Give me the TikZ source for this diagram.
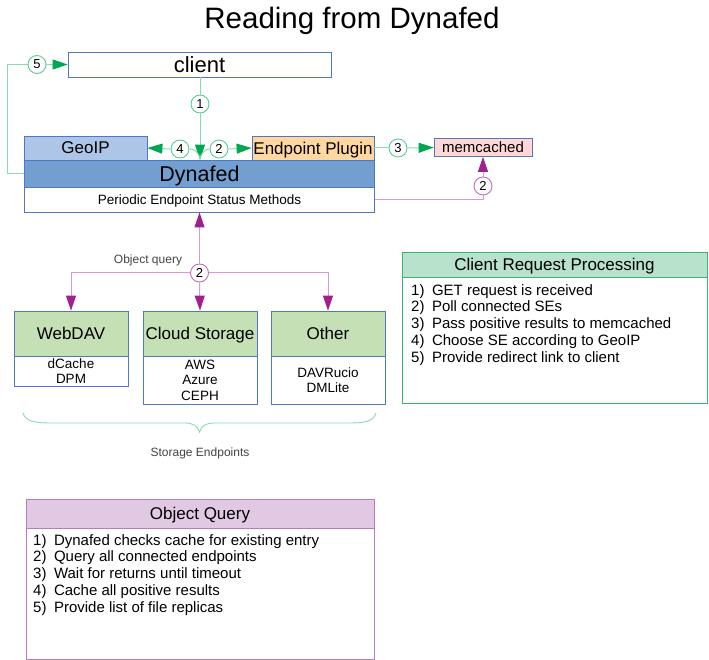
\documentclass[tikz,border=0pt]{standalone}
\usepackage{fontspec}
\setmainfont{Liberation Sans}
\usetikzlibrary{arrows.meta,calc}

\definecolor{boxblue}{HTML}{5078C0}
\definecolor{geoblue}{HTML}{ADC6E8}
\definecolor{dynblue}{HTML}{729FCF}
\definecolor{plugorange}{HTML}{FFD8A0}
\definecolor{mempink}{HTML}{FFD7D7}
\definecolor{sgreen}{HTML}{C5E0B4}
\definecolor{lgreen}{HTML}{86DCAE}
\definecolor{dgreen}{HTML}{00A650}
\definecolor{cgreen}{HTML}{5ACD94}
\definecolor{lpurple}{HTML}{D79AD7}
\definecolor{dpurple}{HTML}{A0208F}
\definecolor{cpurple}{HTML}{C070C0}
\definecolor{mint}{HTML}{B8E2CC}
\definecolor{mintborder}{HTML}{3CB371}
\definecolor{lilac}{HTML}{E1C8E3}
\definecolor{lilacborder}{HTML}{B57BBC}
\definecolor{labelgray}{HTML}{444444}

\tikzset{
  box/.style={draw=boxblue, line width=0.8pt, inner sep=0pt, anchor=center, text depth=0pt},
  hdr/.style={box, font=\fontsize{17}{18}\selectfont},
  sub/.style={draw=boxblue, line width=0.8pt, inner sep=0pt, anchor=center, fill=white, align=center, font=\fontsize{13.5}{15.5}\selectfont},
  num/.style={circle, draw=cgreen, line width=0.9pt, fill=white, minimum size=18pt, inner sep=0pt, font=\fontsize{13}{13}\selectfont},
  pnum/.style={num, draw=cpurple},
  gline/.style={draw=lgreen, line width=1pt},
  pline/.style={draw=lpurple, line width=1pt},
  garrow/.style={-{Triangle[length=15pt,width=10pt,color=dgreen]}},
  parrow/.style={-{Triangle[length=15pt,width=10pt,color=dpurple]}},
  items/.style={align=left, inner sep=0pt, anchor=north west, font=\fontsize{15}{16.75}\selectfont},
  lbl/.style={text=labelgray, inner sep=0pt, text depth=0pt, font=\fontsize{12}{12}\selectfont},
  panel/.style={line width=0.9pt, inner sep=0pt, text depth=0pt, font=\fontsize{17}{17}\selectfont},
}

\begin{document}
\begin{tikzpicture}[x=1pt,y=-1pt]
\useasboundingbox[fill=white] (0,0) rectangle (709,660);

% title
\node[inner sep=0pt, text depth=0pt, font=\fontsize{29.5}{30}\selectfont] (title) at (352,18) {Reading from Dynafed};

% top boxes
\node[box, fill=white, minimum width=263pt, minimum height=25pt, font=\fontsize{22}{22}\selectfont] (client) at (199.5,64.5) {client};
\node[box, fill=geoblue, minimum width=123pt, minimum height=24pt, font=\fontsize{17}{17}\selectfont] (geo) at (85.5,148) {GeoIP};
\node[box, fill=plugorange, minimum width=122pt, minimum height=24pt, font=\fontsize{17}{17}\selectfont] (plug) at (313,148) {Endpoint Plugin};
\node[box, fill=dynblue, minimum width=350pt, minimum height=27pt, font=\fontsize{21.5}{22}\selectfont] (dyn) at (199.5,173.5) {Dynafed};
\node[box, fill=white, minimum width=350pt, minimum height=25pt, font=\fontsize{13.5}{14}\selectfont] (per) at (199.5,199.5) {Periodic Endpoint Status Methods};
\node[box, fill=mempink, minimum width=98pt, minimum height=18pt, font=\fontsize{15}{15}\selectfont] (mem) at (483,147.5) {memcached};

% storage endpoints
\node[hdr, fill=sgreen, minimum width=114pt, minimum height=45pt] (web) at (71,333.5) {WebDAV};
\node[sub, minimum width=114pt, minimum height=30pt] (websub) at (71,371) {dCache\\DPM};
\node[hdr, fill=sgreen, minimum width=114pt, minimum height=45pt] (cloud) at (200,333.5) {Cloud Storage};
\node[sub, minimum width=114pt, minimum height=48pt] (cloudsub) at (200,380) {AWS\\Azure\\CEPH};
\node[hdr, fill=sgreen, minimum width=114pt, minimum height=45pt] (other) at (328,333.5) {Other};
\node[sub, minimum width=114pt, minimum height=48pt] (othersub) at (328,380) {DAVRucio\\DMLite};

% number circles
\node[num] (c1) at (200,104) {1};
\node[num] (c4) at (180,149) {4};
\node[num] (c2g) at (219,149) {2};
\node[num] (c3) at (398,148) {3};
\node[num] (c5) at (37,64.5) {5};
\node[pnum] (cp1) at (483,186) {2};
\node[pnum] (cp2) at (199.5,273) {2};

% green connectors
\coordinate (tip) at (c1 |- dyn.north);
\draw[gline] (client.south -| c1) -- (c1.north);
\draw[gline, garrow] (c1.south) -- (tip);
\draw[gline] ($(tip)+(0,-2)$) .. controls (197,151) and (194,149) .. (c4.east);
\draw[gline, garrow] (c4.west) -- (geo.east);
\draw[gline] ($(tip)+(0,-2)$) .. controls (203,151) and (206,149) .. (c2g.west);
\draw[gline, garrow] (c2g.east) -- (plug.west);
\draw[gline] (plug.east) -- (c3.west);
\draw[gline, garrow] (c3.east) -- (mem.west);
\coordinate (l5) at (7,173.5);
\draw[gline] (dyn.west) -- (l5) |- (c5.west);
\draw[gline, garrow] (c5.east) -- (client.west);

% purple connectors
\draw[pline] (per.east) -| (cp1.south);
\draw[pline, parrow] (cp1.north) -- (mem.south);
\draw[pline, parrow] (cp2.north) -- (per.south);
\draw[pline, parrow] (cp2.west) -| (web.north);
\draw[pline, parrow] (cp2.south) -- (cloud.north);
\draw[pline, parrow] (cp2.east) -| (other.north);
\node[lbl] (oq) at (148,259) {Object query};

% brace
\draw[draw=lgreen, line width=0.9pt] (23,413) .. controls (25,421) and (35,423) .. (50,423) -- (185,423) .. controls (193,423) and (198,426) .. (199.5,432) .. controls (201,426) and (206,423) .. (214,423) -- (350,423) .. controls (365,423) and (374,421) .. (376,413);
\node[lbl] (se) at (200,452) {Storage Endpoints};

% Client Request Processing
\node[panel, draw=mintborder, fill=mint, minimum width=305pt, minimum height=25pt] (crph) at (554.5,264.5) {Client Request Processing};
\node[panel, draw=mintborder, fill=white, minimum width=305pt, minimum height=126pt] (crpb) at (554.5,340) {};
\node[items] (crpi) at (411,284) {1)\enspace GET request is received\\2)\enspace Poll connected SEs\\3)\enspace Pass positive results to memcached\\4)\enspace Choose SE according to GeoIP\\5)\enspace Provide redirect link to client};

% Object Query
\node[panel, draw=lilacborder, fill=lilac, minimum width=348pt, minimum height=29pt] (oqh) at (200,513.5) {Object Query};
\node[panel, draw=lilacborder, fill=white, minimum width=348pt, minimum height=131pt] (oqb) at (200,593.5) {};
\node[items] (oqi) at (33,534) {1)\enspace Dynafed checks cache for existing entry\\2)\enspace Query all connected endpoints\\3)\enspace Wait for returns until timeout\\4)\enspace Cache all positive results\\5)\enspace Provide list of file replicas};
\end{tikzpicture}
\end{document}
